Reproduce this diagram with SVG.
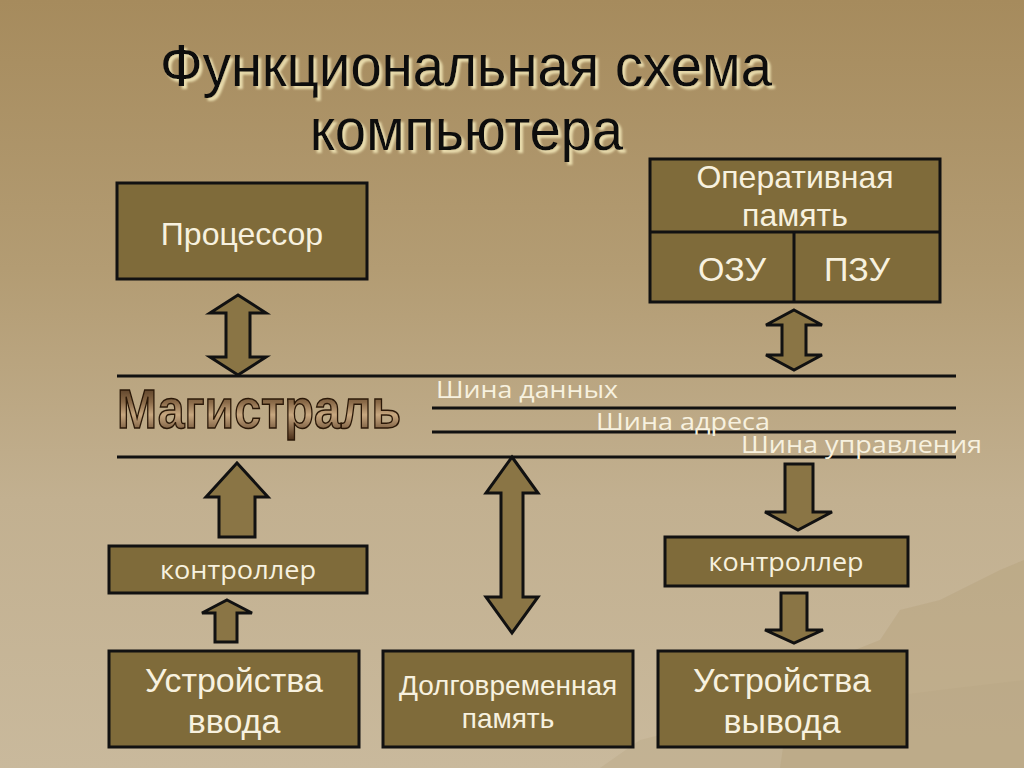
<svg xmlns="http://www.w3.org/2000/svg" width="1024" height="768" viewBox="0 0 1024 768">
<defs>
<linearGradient id="bg" x1="0" y1="0" x2="0" y2="1">
<stop offset="0" stop-color="#a68b5d"/>
<stop offset="0.35" stop-color="#b39c73"/>
<stop offset="0.65" stop-color="#c2b090"/>
<stop offset="1" stop-color="#c9b99c"/>
</linearGradient>
<linearGradient id="mag" x1="0" y1="0" x2="0" y2="1">
<stop offset="0" stop-color="#3a2412"/>
<stop offset="0.4" stop-color="#8a6a48"/>
<stop offset="0.6" stop-color="#c8a880"/>
<stop offset="1" stop-color="#4a2e18"/>
</linearGradient>
<filter id="shadow" x="-5%" y="-20%" width="110%" height="150%">
<feDropShadow dx="3" dy="3" stdDeviation="0.8" flood-color="#efe3b4" flood-opacity="0.9"/>
</filter>
<style>
.box{fill:#7f6b3a;stroke:#111;stroke-width:3}
.arr{fill:#8a7545;stroke:#111;stroke-width:3;stroke-linejoin:miter}
.bus{stroke:#111;stroke-width:3}
.lbl{font-family:"Liberation Sans",Arial,sans-serif;fill:#f7f1df;text-anchor:middle}
.sl{font-family:"Open Sans","DejaVu Sans",sans-serif;fill:#f7f1df}
.title{font-family:"Liberation Sans Narrow","Liberation Sans",Arial,sans-serif;font-size:60px;fill:#111;filter:url(#shadow)}
</style>
</defs>
<rect width="1024" height="768" fill="url(#bg)"/>
<path d="M780,768 L790,700 L830,660 L880,640 L900,610 L940,600 L980,580 L1000,570 L1024,560 L1024,768 Z" fill="#b5a27d" opacity="0.45"/>
<path d="M600,768 L640,740 L700,725 L780,715 L860,700 L940,690 L1024,680 L1024,768 Z" fill="#b8a684" opacity="0.35"/>

<g id="title">
<text class="title" x="160" y="86" textLength="612" lengthAdjust="spacingAndGlyphs">Функциональная схема</text>
<text class="title" x="310" y="150" textLength="313" lengthAdjust="spacingAndGlyphs">компьютера</text>
</g>

<g id="connectors">
<line class="bus" x1="117" y1="376" x2="956" y2="376"/>
<line class="bus" x1="432" y1="408" x2="956" y2="408"/>
<line class="bus" x1="432" y1="432" x2="956" y2="432"/>
<line class="bus" x1="117" y1="457" x2="956" y2="457"/>
<polygon class="arr" points="238,295 266,313 250,313 250,357 266,357 238,375 210,357 226,357 226,313 210,313"/>
<polygon class="arr" points="794,310 822,325 806,325 806,355 822,355 794,370 766,355 782,355 782,325 766,325"/>
<polygon class="arr" points="512,457 538,493 523,493 523,597 538,597 512,633 486,597 501,597 501,493 486,493"/>
<polygon class="arr" points="237,463 268,497 255,497 255,537 219,537 219,497 206,497"/>
<polygon class="arr" points="227,600 252,613 237,613 237,642 215,642 215,613 202,613"/>
<polygon class="arr" points="785,464 813,464 813,512 832,512 798,530 765,512 785,512"/>
<polygon class="arr" points="781,593 807,593 807,630 823,630 794,643 765,630 781,630"/>
</g>

<g id="bus-labels">
<text x="117" y="428" font-family="'Liberation Sans Narrow','Liberation Sans',Arial,sans-serif" font-weight="bold" font-size="56" fill="url(#mag)" stroke="#2a1808" stroke-width="1.5" textLength="284" lengthAdjust="spacingAndGlyphs">Магистраль</text>
<text class="sl" x="436" y="398" font-size="23" textLength="182" lengthAdjust="spacingAndGlyphs">Шина данных</text>
<text class="sl" x="596" y="430" font-size="23" textLength="174" lengthAdjust="spacingAndGlyphs">Шина адреса</text>
<text class="sl" x="741" y="453" font-size="23" textLength="241" lengthAdjust="spacingAndGlyphs">Шина управления</text>
</g>

<g id="processor">
<rect class="box" x="117" y="183" width="250" height="96"/>
<text class="lbl" x="242" y="245" font-size="32">Процессор</text>
</g>

<g id="ram">
<rect class="box" x="650" y="159" width="290" height="143"/>
<line x1="650" y1="232" x2="940" y2="232" stroke="#111" stroke-width="3"/>
<line x1="794" y1="232" x2="794" y2="302" stroke="#111" stroke-width="3"/>
<text class="lbl" x="795" y="188" font-size="32">Оперативная</text>
<text class="lbl" x="795" y="226" font-size="32">память</text>
<text class="lbl" x="732" y="281" font-size="34">ОЗУ</text>
<text class="lbl" x="857" y="281" font-size="34">ПЗУ</text>
</g>

<g id="controller-in">
<rect class="box" x="109" y="546" width="258" height="47"/>
<text class="sl" x="238" y="579" font-size="25" text-anchor="middle" textLength="156" lengthAdjust="spacingAndGlyphs">контроллер</text>
</g>

<g id="controller-out">
<rect class="box" x="665" y="537" width="243" height="49"/>
<text class="sl" x="786" y="571" font-size="25" text-anchor="middle" textLength="155" lengthAdjust="spacingAndGlyphs">контроллер</text>
</g>

<g id="input-devices">
<rect class="box" x="109" y="651" width="250" height="96"/>
<text class="lbl" x="234" y="692" font-size="34">Устройства</text>
<text class="lbl" x="234" y="733" font-size="34">ввода</text>
</g>

<g id="long-memory">
<rect class="box" x="383" y="651" width="250" height="96"/>
<text class="lbl" x="508" y="695" font-size="28">Долговременная</text>
<text class="lbl" x="508" y="728" font-size="28">память</text>
</g>

<g id="output-devices">
<rect class="box" x="658" y="651" width="249" height="96"/>
<text class="lbl" x="782" y="692" font-size="34">Устройства</text>
<text class="lbl" x="782" y="733" font-size="34">вывода</text>
</g>
</svg>
